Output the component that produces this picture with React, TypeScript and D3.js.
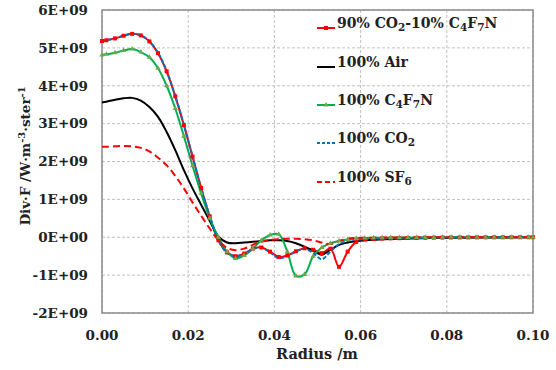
import * as d3 from 'd3';
import { useEffect } from 'react';

// radius grid (m) of the simulated points
const radius = [
  0, 0.001, 0.003, 0.005, 0.007, 0.009, 0.011, 0.013, 0.015, 0.017, 0.019, 0.021, 0.023,
  0.025, 0.027, 0.029, 0.031, 0.033, 0.035, 0.037, 0.039, 0.041, 0.043, 0.045, 0.047,
  0.049, 0.051, 0.053, 0.055, 0.057, 0.059, 0.061, 0.063, 0.065, 0.067, 0.069, 0.071,
  0.073, 0.075, 0.077, 0.079, 0.081, 0.083, 0.085, 0.087, 0.089, 0.091, 0.093, 0.095,
  0.097, 0.099, 0.1,
];

// Div·F in units of 1E+09
const mix = [
  5.18, 5.2, 5.25, 5.32, 5.37, 5.33, 5.17, 4.86, 4.38, 3.72, 2.96, 2.13, 1.3, 0.55, -0.08,
  -0.4, -0.5, -0.43, -0.3, -0.27, -0.38, -0.52, -0.48, -0.37, -0.29, -0.33, -0.42, -0.3,
  -0.78, -0.38, -0.12,
  -0.06, -0.045, -0.035, -0.03, -0.025, -0.02, -0.016, -0.013, -0.01, -0.008, -0.006,
  -0.005, -0.004, -0.003, -0.002, -0.002, -0.001, -0.001, 0, 0, 0,
];
const air = [
  3.56, 3.58, 3.63, 3.67, 3.68, 3.61, 3.44, 3.18, 2.78, 2.3, 1.77, 1.29, 0.86, 0.43, 0.02,
  -0.14, -0.16, -0.14, -0.12, -0.1, -0.08, -0.08, -0.1, -0.16, -0.25, -0.36, -0.46, -0.33,
  -0.2, -0.14, -0.1,
  -0.08, -0.065, -0.055, -0.045, -0.04, -0.035, -0.03, -0.025, -0.02, -0.018, -0.015,
  -0.012, -0.01, -0.008, -0.006, -0.005, -0.004, -0.003, -0.002, -0.001, 0,
];
const c4f7n = [
  4.81, 4.83, 4.87, 4.93, 4.97, 4.89, 4.75, 4.46, 4.0, 3.4, 2.67, 1.89, 1.16, 0.5, 0.0,
  -0.38, -0.56, -0.48, -0.3, -0.08, 0.06, 0.08, -0.38, -1.02, -0.98, -0.5, -0.27, -0.16,
  -0.1, -0.06, -0.03,
  -0.02, -0.015, -0.012, -0.01, -0.008, -0.006, -0.005, -0.004, -0.003, -0.002, -0.002,
  -0.001, -0.001, 0, 0, 0, 0, 0, 0, 0, 0,
];
const co2 = [
  5.17, 5.2, 5.25, 5.32, 5.37, 5.33, 5.17, 4.87, 4.39, 3.73, 2.97, 2.14, 1.31, 0.56, -0.08,
  -0.41, -0.5, -0.44, -0.31, -0.28, -0.4, -0.55, -0.5, -0.38, -0.3, -0.42, -0.58, -0.38,
  -0.18, -0.1, -0.07,
  -0.05, -0.04, -0.033, -0.028, -0.023, -0.019, -0.015, -0.012, -0.01, -0.008, -0.006,
  -0.005, -0.004, -0.003, -0.002, -0.002, -0.001, -0.001, 0, 0, 0,
];
const sf6 = [
  2.39, 2.39, 2.4, 2.41, 2.4, 2.36, 2.27, 2.1, 1.9, 1.62, 1.29, 0.92, 0.57, 0.23, -0.08,
  -0.28, -0.34, -0.3, -0.2, -0.12, -0.07, -0.05, -0.04, -0.04, -0.05, -0.08, -0.14, -0.18,
  -0.1, -0.04, -0.02,
  -0.015, -0.01, -0.008, -0.006, -0.005, -0.004, -0.003, -0.002, -0.002, -0.001, -0.001,
  0, 0, 0, 0, 0, 0, 0, 0, 0, 0,
];

const yTickValues = [-2, -1, 0, 1, 2, 3, 4, 5, 6];
const yTickLabels = ['-2E+09', '-1E+09', '0E+00', '1E+09', '2E+09', '3E+09', '4E+09', '5E+09', '6E+09'];
const xTickValues = [0, 0.02, 0.04, 0.06, 0.08, 0.1];
const xTickLabels = ['0.00', '0.02', '0.04', '0.06', '0.08', '0.10'];

// "_" marks a subscript digit
const legendLabels = ['90% CO_2-10% C_4F_7N', '100% Air', '100% C_4F_7N', '100% CO_2', '100% SF_6'];

const FONT = "'DejaVu Serif', serif";

function subText(label: string) {
  const parts = label.split(/(_\d)/).filter((p) => p !== '');
  let lowered = false;
  return parts.map((p, i) => {
    if (p.startsWith('_')) {
      const el = (
        <tspan key={i} fontSize={10.5} dy={lowered ? 0 : 3}>
          {p.slice(1)}
        </tspan>
      );
      lowered = true;
      return el;
    }
    const el = (
      <tspan key={i} dy={lowered ? -3 : 0}>
        {p}
      </tspan>
    );
    lowered = false;
    return el;
  });
}

export default function App() {
  useEffect(() => {
    document.body.style.margin = '0';
  }, []);

  const width = 556;
  const height = 370;
  const x = d3.scaleLinear().domain([0, 0.1]).range([102, 533]);
  const y = d3.scaleLinear().domain([-2, 6]).range([313, 10]);

  const line = d3
    .line<number>()
    .x((_, i) => x(radius[i]))
    .y((d) => y(d))
    .curve(d3.curveCatmullRom.alpha(0.5));

  const series = [
    { name: legendLabels[0], values: mix, color: '#ff0000', dash: null, marker: 'square' },
    { name: legendLabels[1], values: air, color: '#000000', dash: null, marker: null },
    { name: legendLabels[2], values: c4f7n, color: '#00b050', dash: null, marker: 'triangle' },
    { name: legendLabels[3], values: co2, color: '#0070c0', dash: '4 2', marker: null },
    { name: legendLabels[4], values: sf6, color: '#ff0000', dash: '7 4', marker: null },
  ];

  const tri = d3.symbol(d3.symbolTriangle, 12)();
  const legendX = 317;
  const legendY = [28, 67, 105, 143, 182];

  return (
    <svg width={width} height={height} style={{ display: 'block', background: '#fff' }}>
      {/* grid */}
      {yTickValues.map((t) => (
        <line key={'gy' + t} x1={102} x2={533} y1={y(t)} y2={y(t)} stroke="#c0c0c0" strokeDasharray="3 2" />
      ))}
      {xTickValues.map((t) => (
        <line key={'gx' + t} x1={x(t)} x2={x(t)} y1={10} y2={313} stroke="#c0c0c0" strokeDasharray="3 2" />
      ))}
      <rect x={102} y={10} width={431} height={303} fill="none" stroke="#8c8c8c" strokeWidth={1.5} />

      {/* ticks */}
      {yTickValues.map((t, i) => (
        <text key={'ty' + t} x={88} y={y(t)} dy="0.36em" textAnchor="end" fontFamily={FONT} fontWeight="bold" fontSize={13.5} fill="#222">
          {yTickLabels[i]}
        </text>
      ))}
      {xTickValues.map((t, i) => (
        <text key={'tx' + t} x={x(t)} y={340} textAnchor="middle" fontFamily={FONT} fontWeight="bold" fontSize={13.5} fill="#222">
          {xTickLabels[i]}
        </text>
      ))}
      <text x={317} y={359} textAnchor="middle" fontFamily={FONT} fontWeight="bold" fontSize={14.5} fill="#222">
        Radius /m
      </text>
      <text transform="translate(30,156) rotate(-90)" textAnchor="middle" fontFamily={FONT} fontWeight="bold" fontSize={13.5} fill="#222">
        Div·F /W·m<tspan fontSize={10} dy={-5}>-3</tspan>
        <tspan dy={5}>·ster</tspan>
        <tspan fontSize={10} dy={-5}>-1</tspan>
      </text>

      {/* series */}
      {series.map((s) => (
        <path key={s.name} d={line(s.values) ?? ''} fill="none" stroke={s.color} strokeWidth={2} strokeDasharray={s.dash ?? undefined} />
      ))}
      {series.map((s) =>
        s.marker === 'square'
          ? s.values.map((v, i) => <rect key={s.name + i} x={x(radius[i]) - 2} y={y(v) - 2} width={4} height={4} fill="#ff0000" />)
          : s.marker === 'triangle'
          ? s.values.map((v, i) => <path key={s.name + i} d={tri ?? ''} transform={`translate(${x(radius[i])},${y(v)})`} fill="#6fa84a" />)
          : null
      )}

      {/* legend */}
      {series.map((s, i) => (
        <g key={'lg' + s.name} transform={`translate(${legendX},${legendY[i]})`}>
          <line x1={0} x2={18} y1={0} y2={0} stroke={s.color} strokeWidth={2} strokeDasharray={s.dash ? (s.dash === '4 2' ? '3 2' : '5 3') : undefined} />
          {s.marker === 'square' && <rect x={7} y={-2} width={4} height={4} fill="#ff0000" />}
          {s.marker === 'triangle' && <path d={tri ?? ''} transform="translate(9,0)" fill="#6fa84a" />}
          <text x={20} y={0} dy="0.36em" fontFamily={FONT} fontWeight="bold" fontSize={14} fill="#222">
            {subText(s.name)}
          </text>
        </g>
      ))}
    </svg>
  );
}
